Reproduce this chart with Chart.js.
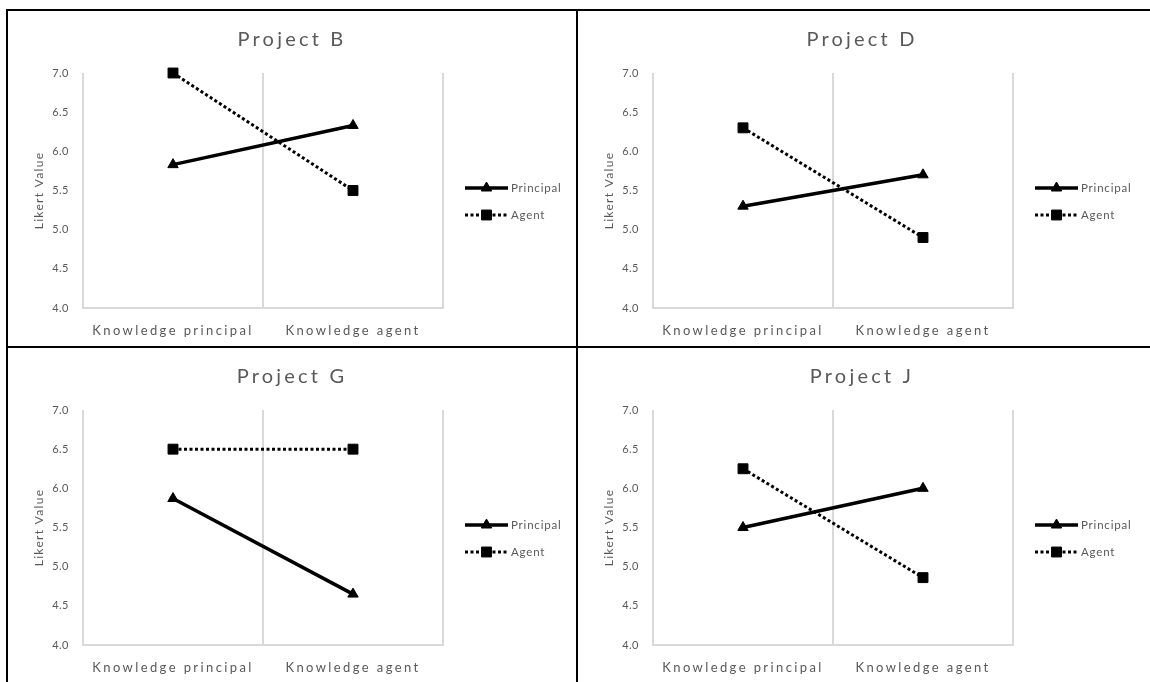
<!DOCTYPE html>
<html>
<head>
<meta charset="utf-8">
<title>Likert values by project</title>
<script src="https://cdn.jsdelivr.net/npm/chart.js@4.4.1/dist/chart.umd.min.js"></script>
<style>
    html, body { margin: 0; padding: 0; background: #fff; }
    body { width: 1150px; height: 682px; overflow: hidden; position: relative; }
    .panel { position: absolute; box-sizing: border-box; border: 2px solid #000; background: #fff; }
    .panel canvas { position: absolute; left: 0; top: 0; }
    #panel-b { left: 6px; top: 9px; width: 572px; height: 339px; }
    #panel-d { left: 576px; top: 9px; width: 580px; height: 339px; }
    #panel-g { left: 6px; top: 346px; width: 572px; height: 345px; }
    #panel-j { left: 576px; top: 346px; width: 580px; height: 345px; }
</style>
</head>
<body>
<div class="panel" id="panel-b"><canvas id="chart-b" width="568" height="335"></canvas></div>
<div class="panel" id="panel-d"><canvas id="chart-d" width="568" height="335"></canvas></div>
<div class="panel" id="panel-g"><canvas id="chart-g" width="568" height="335"></canvas></div>
<div class="panel" id="panel-j"><canvas id="chart-j" width="568" height="335"></canvas></div>
<script>
// Categories and y axis range shared by every panel
const categories = ['Knowledge principal', 'Knowledge agent'];
const yMin = 4.0;
const yMax = 7.0;
const yStep = 0.5;
const seriesNames = ['Principal', 'Agent'];

// Mean Likert value per project
const principalB = [5.83, 6.33];
const agentB = [7.0, 5.5];
const principalD = [5.3, 5.7];
const agentD = [6.3, 4.9];
const principalG = [5.87, 4.65];
const agentG = [6.5, 6.5];
const principalJ = [5.5, 6.0];
const agentJ = [6.25, 4.86];

const textColor = '#595959';
const gridColor = '#d9d9d9';
const fontFamily = 'Lato, "Open Sans", sans-serif';

// Category axis whose labels are drawn letter-spaced
class SpacedCategoryScale extends Chart.CategoryScale {
    drawLabels(chartArea) {
        const ctx = this.ctx;
        ctx.save();
        ctx.letterSpacing = '2.4px';
        super.drawLabels(chartArea);
        ctx.restore();
    }
}
SpacedCategoryScale.id = 'spacedCategory';
SpacedCategoryScale.defaults = Chart.CategoryScale.defaults;

// Value axis with a slightly spaced title and tick labels
class SpacedLinearScale extends Chart.LinearScale {
    drawTitle() {
        const ctx = this.ctx;
        ctx.save();
        ctx.letterSpacing = '1.3px';
        super.drawTitle();
        ctx.restore();
    }
    drawLabels(chartArea) {
        const ctx = this.ctx;
        ctx.save();
        ctx.letterSpacing = '0.5px';
        super.drawLabels(chartArea);
        ctx.restore();
    }
}
SpacedLinearScale.id = 'spacedLinear';
SpacedLinearScale.defaults = Chart.LinearScale.defaults;

Chart.register(SpacedCategoryScale, SpacedLinearScale);

// Spaced-out title across the top of each panel
const panelTitle = {
    id: 'panelTitle',
    afterDraw(chart, args, opts) {
        const ctx = chart.ctx;
        ctx.save();
        ctx.font = '20px ' + fontFamily;
        ctx.letterSpacing = '3.2px';
        ctx.fillStyle = textColor;
        ctx.textAlign = 'center';
        ctx.textBaseline = 'middle';
        ctx.fillText(opts.text, chart.width / 2, 29);
        ctx.restore();
    }
};

// Legend to the right: line sample with the marker in the middle
const lineLegend = {
    id: 'lineLegend',
    afterDraw(chart) {
        const ctx = chart.ctx;
        const x0 = chart.chartArea.right + 22;
        const lineLength = 43;
        chart.data.datasets.forEach((ds, i) => {
            const y = 177 + i * 27;
            ctx.save();
            ctx.strokeStyle = ds.borderColor;
            ctx.lineWidth = ds.borderWidth;
            ctx.setLineDash(ds.borderDash || []);
            ctx.beginPath();
            ctx.moveTo(x0, y);
            ctx.lineTo(x0 + lineLength, y);
            ctx.stroke();
            ctx.setLineDash([]);
            ctx.fillStyle = ds.pointBackgroundColor;
            ctx.strokeStyle = ds.pointBorderColor;
            ctx.lineWidth = ds.pointBorderWidth;
            Chart.helpers.drawPoint(ctx, {
                pointStyle: ds.pointStyle,
                radius: ds.pointRadius,
                rotation: 0,
                borderWidth: ds.pointBorderWidth
            }, x0 + lineLength / 2, y);
            ctx.font = '11.5px ' + fontFamily;
            ctx.letterSpacing = '0.8px';
            ctx.fillStyle = textColor;
            ctx.textAlign = 'left';
            ctx.textBaseline = 'middle';
            ctx.fillText(ds.label, x0 + lineLength + 3, y);
            ctx.restore();
        });
    }
};

const makeChart = (canvasId, title, principal, agent) => {
    const ctx = document.getElementById(canvasId).getContext('2d');
    return new Chart(ctx, {
        type: 'line',
        data: {
            labels: categories,
            datasets: [{
                label: seriesNames[0],
                data: principal,
                borderColor: '#000',
                borderWidth: 3.5,
                pointStyle: 'triangle',
                pointRadius: 6,
                pointBackgroundColor: '#000',
                pointBorderColor: '#000',
                pointBorderWidth: 1,
                clip: false
            }, {
                label: seriesNames[1],
                data: agent,
                borderColor: '#000',
                borderWidth: 3,
                borderDash: [3, 2.5],
                pointStyle: 'rect',
                pointRadius: 7,
                pointBackgroundColor: '#000',
                pointBorderColor: '#000',
                pointBorderWidth: 1,
                clip: false
            }]
        },
        options: {
            responsive: false,
            animation: false,
            events: [],
            layout: {
                padding: { left: 10, right: 133, top: 62, bottom: 8 }
            },
            plugins: {
                legend: { display: false },
                tooltip: { enabled: false },
                panelTitle: { text: title }
            },
            scales: {
                x: {
                    type: 'spacedCategory',
                    offset: true,
                    grid: { color: gridColor, lineWidth: 2, offset: true, drawTicks: false },
                    border: { color: gridColor, width: 2 },
                    ticks: {
                        color: textColor,
                        padding: 15,
                        font: { family: fontFamily, size: 13 }
                    },
                    afterFit: (scale) => {
                        scale.height = 30;
                    }
                },
                y: {
                    type: 'spacedLinear',
                    min: yMin,
                    max: yMax,
                    grid: { display: false, drawTicks: false },
                    border: { display: false },
                    ticks: {
                        stepSize: yStep,
                        padding: 14,
                        color: textColor,
                        font: { family: fontFamily, size: 11 },
                        callback: (value) => value.toFixed(1)
                    },
                    title: {
                        display: true,
                        text: 'Likert Value',
                        color: textColor,
                        font: { family: fontFamily, size: 12 },
                        padding: { top: 14, bottom: 0 }
                    },
                    afterFit: (scale) => {
                        scale.width = 65;
                    }
                }
            }
        },
        plugins: [panelTitle, lineLegend]
    });
};

makeChart('chart-b', 'Project B', principalB, agentB);
makeChart('chart-d', 'Project D', principalD, agentD);
makeChart('chart-g', 'Project G', principalG, agentG);
makeChart('chart-j', 'Project J', principalJ, agentJ);
</script>
</body>
</html>
